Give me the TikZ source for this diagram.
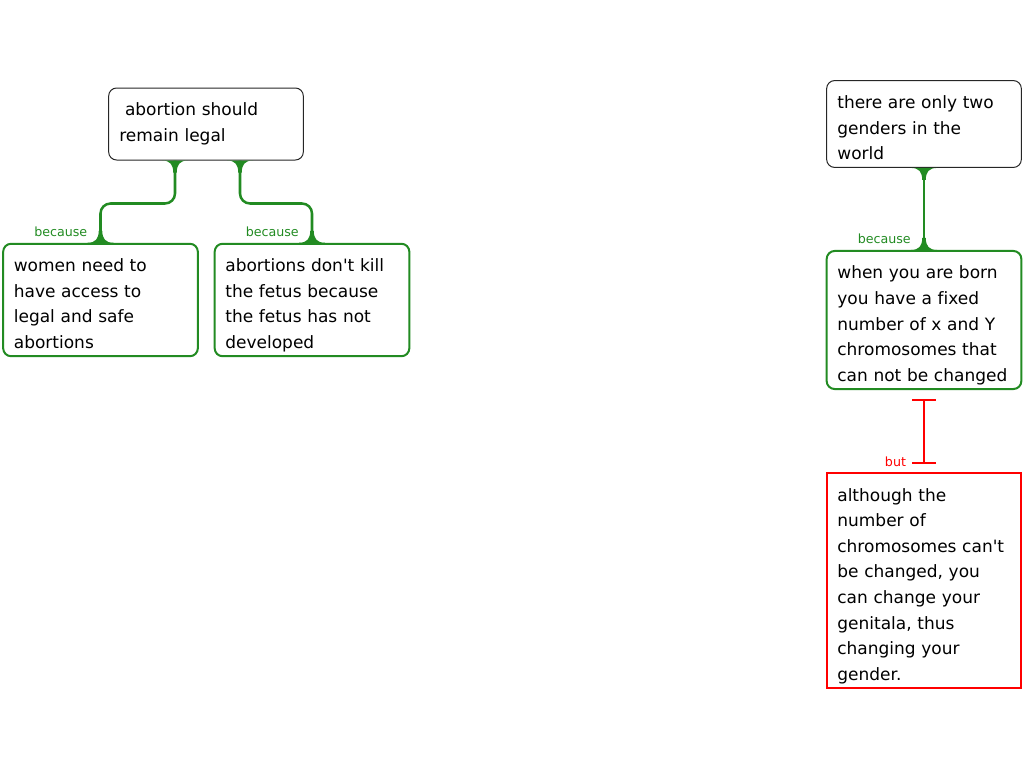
\documentclass[tikz,border=0pt]{standalone}
\usepackage{fontspec}
\setmainfont{DejaVu Sans}[Ligatures=NoCommon]
\usetikzlibrary{arrows.meta,calc}
\definecolor{becausegreen}{RGB}{34,139,34}
\definecolor{butred}{RGB}{255,0,0}

\tikzset{
  claim/.style={draw=black!85, line width=0.75pt, rounded corners=6pt, minimum width=146pt, text width=130pt, inner xsep=8pt, align=left, font=\fontsize{12.75}{19.2}\selectfont},
  toptext/.style={inner ysep=0pt, execute at begin node={\rule{0pt}{21pt}}, execute at end node={\strut}},
  reason/.style={claim, toptext, draw=becausegreen, line width=1.5pt},
  objection/.style={claim, toptext, draw=butred, line width=1.5pt, sharp corners},
  becauseline/.style={draw=becausegreen, line width=1.9pt, rounded corners=7.5pt},
  becauselbl/.style={text=becausegreen, font=\fontsize{9.5}{11}\selectfont, anchor=east, inner sep=0pt, xshift=-9pt, yshift=8.25pt},
  butline/.style={draw=butred, line width=1.5pt, {Bar[width=18pt]}-{Bar[width=18pt]}, shorten <=6.75pt, shorten >=6pt},
  butlbl/.style={text=butred, font=\fontsize{9.5}{11}\selectfont, anchor=east, inner sep=0pt, xshift=-12.75pt, yshift=7.5pt},
  flare/.pic={\fill (-13,0) .. controls (-5,0) and (-1.8,4) .. (-1.8,12) -- (1.8,12) .. controls (1.8,4) and (5,0) .. (13,0) -- cycle;}
}

\begin{document}
\begin{tikzpicture}[x=0.75pt, y=-0.75pt]
  \useasboundingbox (0,0) rectangle (1024,768);

  % left argument
  \node[claim, minimum height=54pt] (legal) at (206,124) {\ abortion should\\remain legal};
  \node[reason, minimum height=84pt] (access) at (100.5,300) {women need to\\have access to\\legal and safe\\abortions};
  \node[reason, minimum height=84pt] (fetus) at (312,300) {abortions don\textquotesingle t kill\\the fetus because\\the fetus has not\\developed};

  \coordinate (legalL) at ($(legal.south)+(-31,0)$);
  \coordinate (legalR) at ($(legal.south)+(34,0)$);
  \draw[becauseline] (legalL) -- ++(0,43) -| (access.north) node[becauselbl] {because};
  \draw[becauseline] (legalR) -- ++(0,43) -| (fetus.north) node[becauselbl] {because};
  \pic[color=becausegreen] at (legalL) {flare};
  \pic[color=becausegreen] at (legalR) {flare};
  \pic[color=becausegreen, yscale=-1] at (access.north) {flare};
  \pic[color=becausegreen, yscale=-1] at (fetus.north) {flare};

  % right argument
  \node[claim, toptext, minimum height=64.5pt] (genders) at (924,124) {there are only two\\genders in the\\world};
  \node[reason, minimum height=103.5pt] (born) at (924,320) {when you are born\\you have a fixed\\number of x and Y\\chromosomes that\\can not be changed};
  \node[objection, minimum height=161pt] (genitala) at (924,580.5) {although the\\number of\\chromosomes can\textquotesingle t\\be changed, you\\can change your\\genitala, thus\\changing your\\gender.};

  \draw[becauseline] (genders.south) -- (born.north) node[becauselbl] {because};
  \pic[color=becausegreen] at (genders.south) {flare};
  \pic[color=becausegreen, yscale=-1] at (born.north) {flare};

  \draw[butline] (born.south) -- (genitala.north) node[butlbl] {but};
\end{tikzpicture}
\end{document}
